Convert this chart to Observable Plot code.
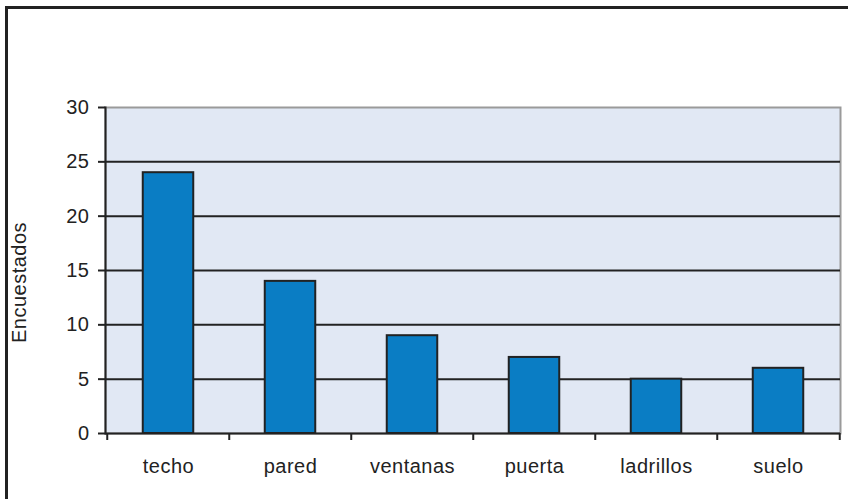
<!DOCTYPE html>
<html>
<head>
<meta charset="utf-8">
<script src="https://cdn.jsdelivr.net/npm/d3@7"></script>
<script src="https://cdn.jsdelivr.net/npm/@observablehq/plot@0.6"></script>
<style>
  html, body { margin: 0; padding: 0; background: #fff; }
  #wrap { position: relative; width: 848px; height: 499px; overflow: hidden; }
  #border { position: absolute; left: 5px; top: 6px; right: -10px; bottom: -10px;
            border-top: 3px solid #222; border-left: 3px solid #222; pointer-events: none; }
  #chart { position: absolute; left: 0; top: 0; }
</style>
</head>
<body>
<div id="wrap"><div id="chart"></div><div id="border"></div></div>
<script>
const categories = ["techo", "pared", "ventanas", "puerta", "ladrillos", "suelo"];
const values = [24, 14, 9, 7, 5, 6];
const yTicks = [0, 5, 10, 15, 20, 25, 30];
const gridTicks = [5, 10, 15, 20, 25];
const yLabel = "Encuestados";

const data = categories.map((c, i) => ({category: c, value: values[i]}));
const W = 848, H = 499, mL = 105, mR = 8, mT = 107, mB = 66;
const band = (W - mL - mR) / categories.length;
const barW = 51;

const chart = Plot.plot({
  width: W,
  height: H,
  marginLeft: mL,
  marginRight: mR,
  marginTop: mT,
  marginBottom: mB,
  style: {fontFamily: "'Liberation Sans', Arial, sans-serif", fontSize: "20px", color: "#222", letterSpacing: "0.5px", background: "transparent"},
  x: {domain: categories, padding: 0},
  y: {domain: [0, 30]},
  marks: [
    Plot.frame({fill: "#e1e8f4", stroke: "#9a9a9a", strokeWidth: 2}),
    Plot.ruleY(gridTicks, {stroke: "#222", strokeWidth: 2}),
    Plot.barY(data, {x: "category", y: "value", fill: "#0a7dc4", stroke: "#222", strokeWidth: 2,
      insetLeft: (band - barW) / 2, insetRight: (band - barW) / 2}),
    Plot.ruleY([0], {stroke: "#222", strokeWidth: 2}),
    Plot.frame({anchor: "left", stroke: "#222", strokeWidth: 2}),
    Plot.axisY({ticks: yTicks, tickSize: 7, tickPadding: 9, label: null, stroke: "#222", strokeWidth: 2, fontSize: 20}),
    Plot.axisX({text: null, tickSize: 7, dx: -band / 2, label: null, stroke: "#222", strokeWidth: 2}),
    Plot.axisX({ticks: [categories[categories.length - 1]], text: null, tickSize: 7, dx: band / 2, label: null, stroke: "#222", strokeWidth: 2}),
    Plot.axisX({tickSize: 0, tickPadding: 25, label: null, fontSize: 20}),
    Plot.text([yLabel], {frameAnchor: "left", textAnchor: "middle", dx: -86, dy: 12, rotate: -90, fontSize: 20, fill: "#222"})
  ]
});
document.getElementById("chart").appendChild(chart);
</script>
</body>
</html>
